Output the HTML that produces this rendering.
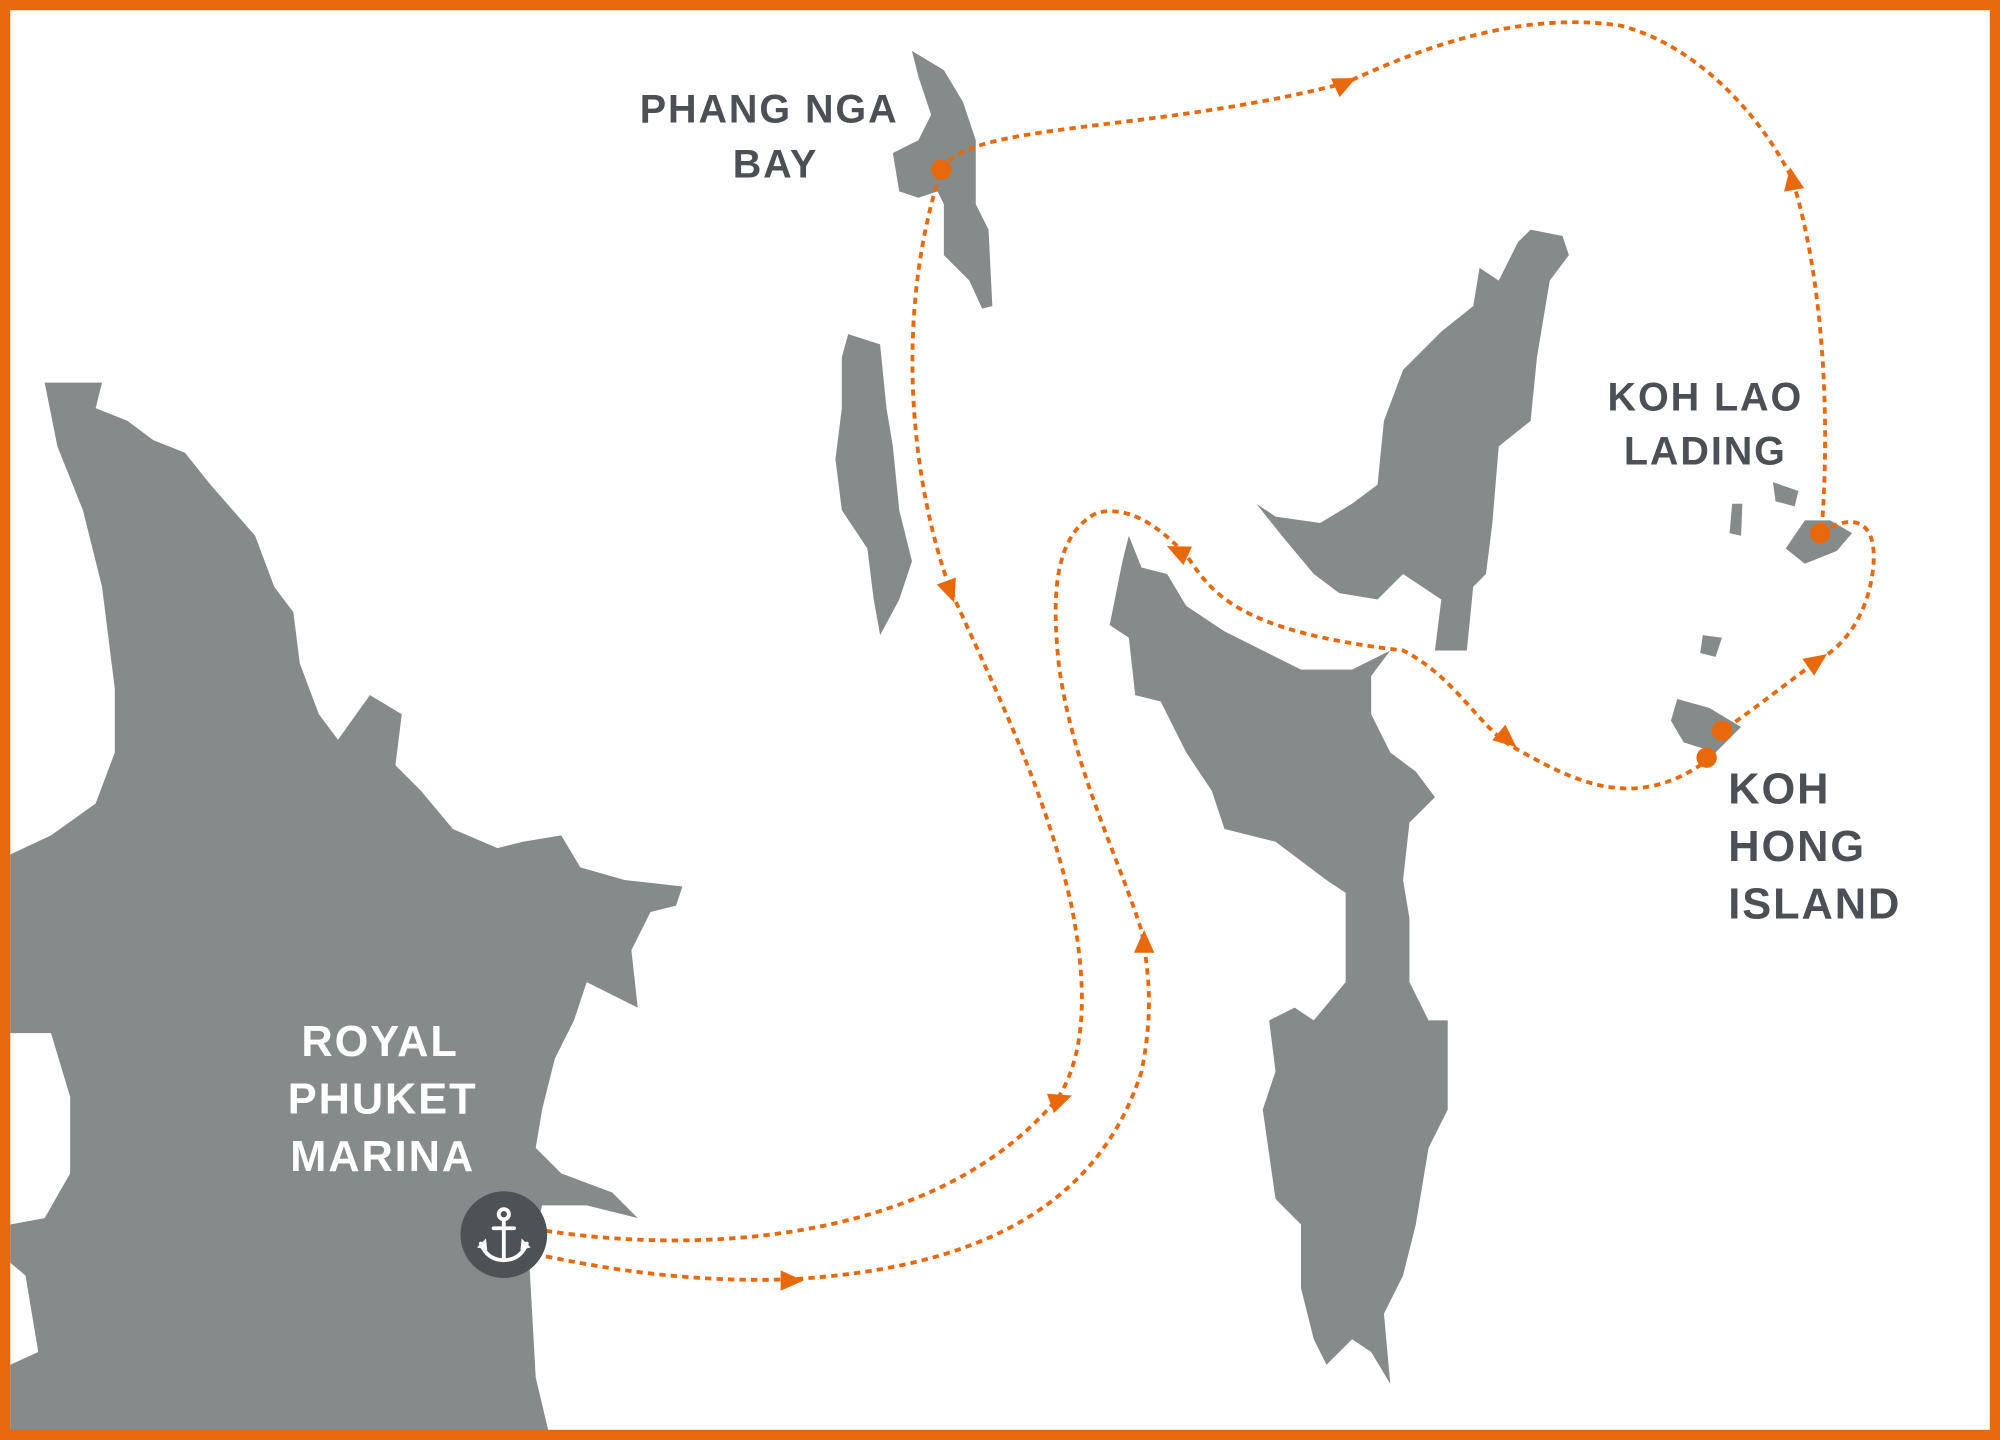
<!DOCTYPE html>
<html><head><meta charset="utf-8"><style>
html,body{margin:0;padding:0;background:#fff;}
svg{display:block;}
text{font-family:"Liberation Sans",sans-serif;font-weight:bold;letter-spacing:1.5px;}
</style></head><body>
<svg width="2000" height="1440" viewBox="0 0 1568 1129" preserveAspectRatio="none" xmlns="http://www.w3.org/2000/svg">
<rect x="0" y="0" width="1568" height="1129" fill="#fff"/>
<g fill="#858a8a">
<path d="M35,300 L80,300 L75,320 L100,330 L120,345 L145,355 L165,380 L200,420 L215,460 L230,480 L235,520 L250,560 L265,580 L290,545 L315,560 L310,600 L330,620 L355,650 L390,665 L410,660 L440,655 L455,680 L490,690 L535,695 L530,710 L510,715 L495,745 L500,790 L460,770 L450,800 L435,830 L425,870 L420,900 L440,920 L480,935 L500,955 L460,945 L425,945 L415,990 L420,1080 L430,1122 L8,1122 L8,1070 L30,1060 L20,1000 L8,990 L8,960 L35,955 L55,920 L55,860 L40,810 L8,810 L8,670 L40,655 L75,630 L90,590 L90,540 L80,460 L65,400 L45,350 Z"/>
<path d="M885,420 L895,445 L915,450 L930,475 L960,495 L990,510 L1020,525 L1060,525 L1090,510 L1075,530 L1075,560 L1090,590 L1110,605 L1125,625 L1105,645 L1100,690 L1105,720 L1105,770 L1120,800 L1135,800 L1135,870 L1120,900 L1110,960 L1100,1000 L1085,1030 L1090,1085 L1075,1060 L1060,1050 L1040,1070 L1030,1050 L1020,1010 L1020,960 L1000,940 L990,870 L1000,840 L995,800 L1015,790 L1030,800 L1055,770 L1055,700 L1040,690 L1000,660 L960,650 L950,620 L930,590 L910,550 L890,545 L885,500 L870,490 L880,440 Z"/>
<path d="M1225,185 L1230,200 L1215,220 L1205,280 L1200,330 L1175,350 L1170,410 L1165,450 L1155,460 L1150,510 L1125,510 L1130,470 L1100,450 L1080,470 L1050,465 L1030,450 L1005,420 L985,395 L1000,405 L1035,410 L1060,395 L1080,380 L1085,330 L1100,290 L1130,260 L1155,240 L1160,210 L1175,220 L1190,190 L1200,180 Z"/>
<path d="M715,40 L740,55 L755,80 L765,110 L765,160 L775,180 L778,240 L770,242 L760,220 L740,200 L740,160 L735,150 L720,155 L705,150 L700,120 L720,110 L730,90 L720,60 Z"/>
<path d="M665,262 L690,270 L695,320 L700,350 L705,400 L715,440 L705,470 L690,498 L685,470 L680,430 L660,400 L655,360 L660,320 L660,280 Z"/>
<path d="M1390,378 L1410,385 L1407,397 L1392,393 Z"/>
<path d="M1415,408 L1435,408 L1452,418 L1440,432 L1415,442 L1400,430 Z"/>
<path d="M1315,548 L1340,555 L1365,570 L1345,590 L1320,582 L1310,565 Z"/>
<path d="M1335,498 L1350,500 L1345,515 L1333,512 Z"/>
<path d="M1358,395 L1366,395 L1365,420 L1356,418 Z"/>
</g>
<g fill="none" stroke="#e8690c" stroke-width="3" stroke-dasharray="5 4">
<path d="M428,985 C500,1000 560,1005 620,1003 C760,995 860,950 895,840 C905,790 900,760 895,730 C880,680 840,600 830,520 C825,470 825,420 860,402 C890,395 915,420 930,435 C950,465 970,495 1100,510 C1140,530 1160,570 1185,585 C1230,610 1280,640 1340,595"/>
<path d="M428,965 C560,985 740,970 830,860 C855,820 850,760 840,710 C820,620 780,540 745,462 C715,380 700,250 738,133"/>
<path d="M738,133 C760,95 900,105 1055,65 C1130,30 1200,10 1270,20 C1330,35 1380,90 1405,140 C1430,220 1435,330 1428,418"/>
<path d="M1428,418 C1445,405 1475,400 1468,450 C1462,490 1440,510 1425,518 C1395,540 1370,560 1350,573"/>
</g>
<g fill="#e8690c">
<path d="M-9,-8 L9,0 L-9,8 Z" transform="translate(1055,65) rotate(-25)"/>
<path d="M-9,-8 L9,0 L-9,8 Z" transform="translate(1405,140) rotate(-100)"/>
<path d="M-9,-8 L9,0 L-9,8 Z" transform="translate(745,464) rotate(70)"/>
<path d="M-9,-8 L9,0 L-9,8 Z" transform="translate(832,862) rotate(-20)"/>
<path d="M-9,-8 L9,0 L-9,8 Z" transform="translate(621,1004) rotate(0)"/>
<path d="M-9,-8 L9,0 L-9,8 Z" transform="translate(897,738) rotate(-90)"/>
<path d="M-9,-8 L9,0 L-9,8 Z" transform="translate(923,432) rotate(205)"/>
<path d="M-9,-8 L9,0 L-9,8 Z" transform="translate(1182,580) rotate(40)"/>
<path d="M-9,-8 L9,0 L-9,8 Z" transform="translate(1425,518) rotate(-35)"/>
<circle cx="738" cy="133" r="8"/>
<circle cx="1427" cy="418" r="8"/>
<circle cx="1350" cy="573" r="8"/>
<circle cx="1338" cy="594" r="8"/>
</g>
<circle cx="395" cy="968" r="34" fill="#4d5257"/>
<g stroke="#fff" stroke-width="3" fill="none" stroke-linecap="round">
<circle cx="395" cy="952" r="4"/>
<line x1="395" y1="956" x2="395" y2="988"/>
<line x1="387" y1="963" x2="403" y2="963"/>
<path d="M377,975 Q382,988 395,988 Q408,988 413,975"/>
</g>
<g fill="#fff"><path d="M374,978 L381,971 L382,980 Z"/><path d="M416,978 L409,971 L408,980 Z"/></g>
<g fill="#4b5056" font-size="31">
<text x="603" y="96" text-anchor="middle">PHANG NGA</text>
<text x="608" y="139" text-anchor="middle">BAY</text>
<text x="1337" y="322" text-anchor="middle">KOH LAO</text>
<text x="1337" y="364" text-anchor="middle">LADING</text>
</g>
<g fill="#4b5056" font-size="34">
<text x="1355" y="630">KOH</text>
<text x="1355" y="675">HONG</text>
<text x="1355" y="720">ISLAND</text>
</g>
<g fill="#fff" font-size="34" text-anchor="middle">
<text x="298" y="828">ROYAL</text>
<text x="300" y="873">PHUKET</text>
<text x="300" y="918">MARINA</text>
</g>
<rect x="4" y="4" width="1560" height="1121" fill="none" stroke="#e8690c" stroke-width="8"/>
</svg>
</body></html>
